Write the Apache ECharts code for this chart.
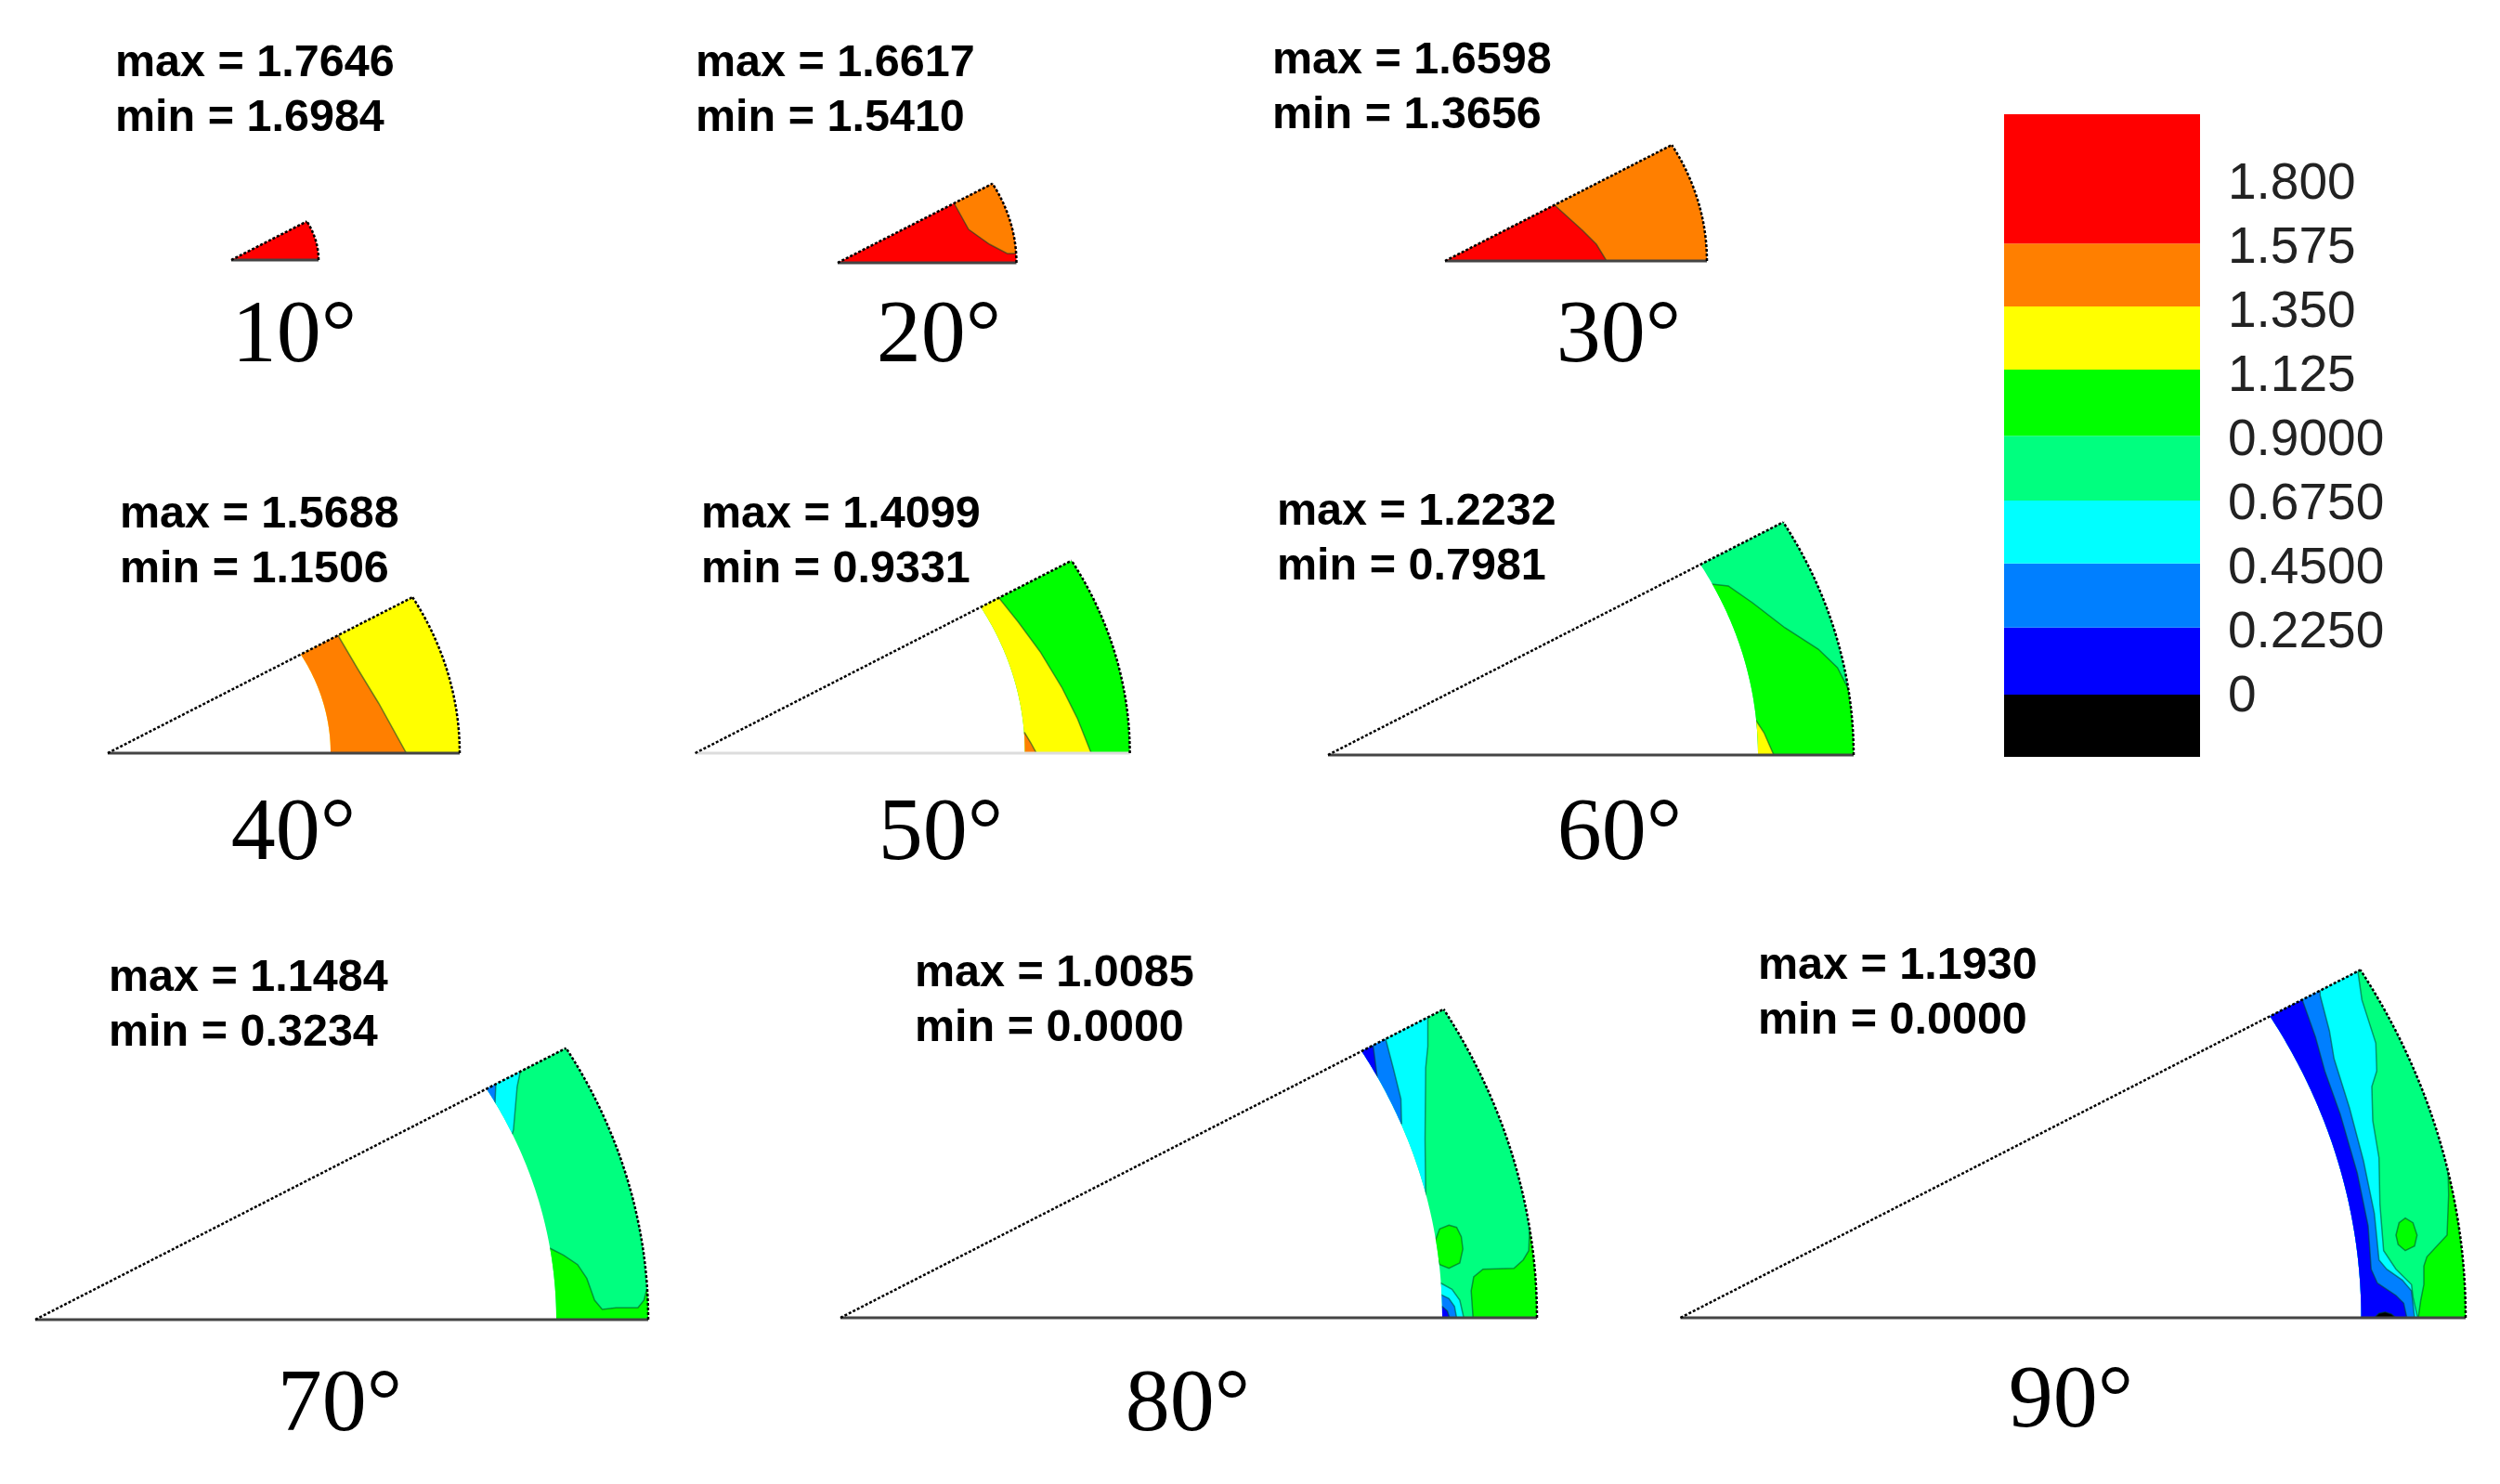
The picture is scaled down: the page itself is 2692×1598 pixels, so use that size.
<!DOCTYPE html>
<html>
<head>
<meta charset="utf-8">
<title>Contours by angle</title>
<script src="https://cdn.jsdelivr.net/npm/echarts@6/dist/echarts.min.js"></script>
<style>
	html,body{margin:0;padding:0;background:#fff;}
	#chart{width:2692px;height:1598px;}
</style>
</head>
<body>
<div id="chart"></div>
<script>
// contour level colours, low to high
var BLK='#000000',BLU='#0000ff',AZU='#007fff',CYA='#00ffff',SPR='#00ff7f',GRN='#00ff00',YEL='#ffff00',ORG='#ff7f00',RED='#ff0000';

var angles=['10°','20°','30°','40°','50°','60°','70°','80°','90°'];
var maxValues=['1.7646','1.6617','1.6598','1.5688','1.4099','1.2232','1.1484','1.0085','1.1930'];
var minValues=['1.6984','1.5410','1.3656','1.1506','0.9331','0.7981','0.3234','0.0000','0.0000'];
var outerRadius=[94,192.5,282,379,468,566,660,750,845.5];
var innerRadius=[0,0,0,240,355,463,561,648,733];
var baseColors=[RED,RED,ORG,YEL,GRN,SPR,SPR,SPR,SPR];

// colorbar
var barLevels=[0,0.225,0.45,0.675,0.9,1.125,1.35,1.575,1.8];
var barLabels=['0','0.2250','0.4500','0.6750','0.9000','1.125','1.350','1.575','1.800'];
var barEdges=[-0.209,0.01,0.245,0.47,0.691,0.919,1.151,1.373,1.594,2.048];
var barColors=[BLK,BLU,AZU,CYA,SPR,GRN,YEL,ORG,RED];

// contour patches per panel, points are [along base, above base], clipped to the ring when drawn
var patches20=[
	{c:ORG,p:[[126,63],[141,36],[163.5,20],[182.6,10],[200,10],[200,100],[126,100]]}
];
var patches30=[
	{c:RED,p:[[0,0],[174,-5],[174,0],[163,18],[148,33],[117,61],[117,80],[0,80]]}
];
var patches40=[
	{c:ORG,p:[[249,125],[269,91],[291.6,54],[321.5,0],[321.5,-5],[200,-5],[200,140],[249,140]]}
];
var patches50=[
	{c:YEL,p:[[328,166],[348,141],[371.4,109.3],[394.7,71],[411.4,37.7],[426.4,0],[426.4,-5],[300,-5],[300,190],[328,190]]},
	{c:ORG,p:[[354.7,22],[361.4,11],[367.4,0],[367.4,-5],[330,-5],[330,22]]}
];
var patches60=[
	{c:GRN,p:[[413,184],[431,182],[457,164],[492,137],[528,114],[548.6,94],[558.8,74],[563,64],[600,64],[600,-5],[400,-5],[400,184]]},
	{c:YEL,p:[[461,37],[469.5,24],[480,0],[480,-5],[400,-5],[400,37]]}
];
var patches70=[
	{c:CYA,p:[[522.2,267],[518.9,251],[514.9,204.3],[512.9,197.7],[470,197],[470,290],[522.2,290]]},
	{c:AZU,p:[[496,255],[495,232.7],[470,232],[470,290],[496,290]]},
	{c:GRN,p:[[553.9,77],[568.9,69.3],[583.9,59.3],[593.9,44.3],[602.2,21],[610.5,11],[625.5,12.7],[648.9,12.7],[655.5,21],[658,31],[680,31],[680,-5],[530,-5],[530,77]]}
];
var patches80=[
	{c:CYA,p:[[632.5,323],[632.5,292.3],[630.2,269],[629.5,192.3],[630.2,132.3],[600,132],[540,345],[632.5,345]]},
	{c:AZU,p:[[586.9,300.7],[595.2,269],[603.5,235.7],[604.2,209],[570,209],[540,345],[586.9,345]]},
	{c:BLU,p:[[573.5,294],[578,259],[550,259],[540,345],[573.5,345]]},
	{c:GRN,p:[[655.2,99.7],[663.5,97.3],[668.5,87.3],[670.2,74],[666.9,59],[655.2,53.3],[645.2,57.3],[641.2,69],[640.2,82.3],[645.2,95.7]]},
	{c:GRN,p:[[742.5,109],[741.2,72.3],[735.2,62.3],[725.2,53.3],[691.9,52.3],[681.9,44],[679.2,29],[681.2,0],[681.2,-5],[780,-5],[780,109]]},
	{c:CYA,p:[[645.2,38],[658.5,30.7],[666.9,19],[671.2,0],[671.2,-5],[620,-5],[620,38]]},
	{c:AZU,p:[[645.2,25.7],[655.2,20.7],[661.2,12.3],[663.5,0],[663.5,-5],[620,-5],[620,25.7]]},
	{c:BLU,p:[[647.9,12.3],[653.5,7.3],[655.9,0],[655.9,-5],[620,-5],[620,12.3]]}
];
var patches90=[
	{c:CYA,p:[[729.8,370.7],[733.8,342.3],[748.8,295.7],[749.8,265.7],[744.5,249],[745.5,212.3],[752.2,172.3],[753.2,122.3],[757.2,72.3],[770.5,52.3],[787.2,35.7],[788.8,22.3],[793.8,0],[793.8,-5],[690,-5],[620,395],[729.8,395]]},
	{c:AZU,p:[[688.8,347.3],[698.8,309],[703.8,279],[720.5,225.7],[735.5,169],[747.2,112.3],[752.2,62.3],[760.5,52.3],[777.2,40.7],[787.2,29],[790.5,0],[790.5,-5],[690,-5],[620,395],[688.8,395]]},
	{c:BLU,p:[[669.8,341.7],[683.8,302.3],[693.8,265.7],[710.5,219],[728.8,155.7],[740.5,99],[743.8,52.3],[750.5,37.3],[770.5,24],[778.8,15.7],[782.2,0],[782.2,-5],[690,-5],[620,395],[669.8,395]]},
	{c:BLK,p:[[747.2,0],[752.2,4.7],[758.8,6.3],[765.5,4],[770.5,0],[770.5,-5],[747.2,-5]]},
	{c:GRN,p:[[826.5,160.7],[827.2,132.3],[825.5,89],[803.8,65.7],[800.5,55.7],[800.5,35.7],[797.2,19],[794.5,0],[794.5,-5],[880,-5],[880,160.7]]},
	{c:GRN,p:[[780.5,107.3],[788.8,102.3],[793.2,89],[790.5,77.3],[780.5,72.3],[772.8,79],[770.5,89],[773.8,102.3]]}
];
var panelPatches=[[],patches20,patches30,patches40,patches50,patches60,patches70,patches80,patches90];

// layout
var ASPECT=0.886,SWEEP=30;
var apexes=[[249,280],[902,283],[1556,281],[116,811],[748.6,811],[1430,813],[38,1421],[905,1419],[1809.5,1419]];
var statPos=[[124,39],[749,39],[1370,36],[129,525],[755,525],[1375,522],[117,1024],[985,1019],[1893,1011]];
var anglePos=[[317,364],[1011,364],[1743,364],[316,900],[1013,900],[1744,900],[366,1515],[1279,1515],[2230,1511]];

function arc(r,from,to){
	var pts=[],n=Math.max(2,Math.abs(to-from)*2);
	for(var k=0;k<=n;k++){
		var t=(from+(to-from)*k/n)*Math.PI/180;
		pts.push([r*Math.cos(t),r*ASPECT*Math.sin(t)]);
	}
	return pts;
}
function ring(i){
	var inner=innerRadius[i]>0?arc(innerRadius[i],SWEEP,0):[[0,0]];
	return arc(outerRadius[i],0,SWEEP).concat(inner);
}

function panelSeries(i){
	var list=[{c:baseColors[i],p:ring(i),base:true}].concat(panelPatches[i]);
	var R=outerRadius[i];
	return {
		type:'custom',
		xAxisIndex:i,
		yAxisIndex:i,
		silent:true,
		data:list.map(function(d,j){return [j];}).concat([[list.length]]),
		renderItem:function(params,api){
			var j=params.dataIndex;
			var toPx=function(p){return api.coord(p);};
			if(j==list.length){
				// sector border: base line, slanted side and outer arc
				var tip=arc(R,SWEEP,SWEEP)[0];
				var dots={stroke:'#000',fill:null,lineWidth:2.5,lineDash:[3,2]};
				return {type:'group',children:[
					{type:'polyline',shape:{points:[[0,0],[R,0]].map(toPx)},style:{stroke:i==4?'#dddddd':'#444444',fill:null,lineWidth:3}},
					{type:'polyline',shape:{points:[[0,0],tip].map(toPx)},style:dots},
					{type:'polyline',shape:{points:arc(R,0,SWEEP).map(toPx)},style:dots}
				]};
			}
			var item=list[j];
			var el={
				type:'polygon',
				shape:{points:item.p.map(toPx)},
				style:{fill:item.c,stroke:item.base?null:'rgba(0,70,40,0.55)',lineWidth:item.base?0:1.5}
			};
			if(!item.base){
				el.clipPath={type:'polygon',shape:{points:ring(i).map(toPx)}};
			}
			return el;
		}
	};
}

var grids=[],xAxes=[],yAxes=[],series=[],texts=[];
angles.forEach(function(a,i){
	var R=outerRadius[i],h=R*ASPECT/2;
	grids.push({left:apexes[i][0],top:apexes[i][1]-h,width:R,height:h});
	xAxes.push({gridIndex:i,type:'value',min:0,max:R,show:false});
	yAxes.push({gridIndex:i,type:'value',min:0,max:h,show:false});
	series.push(panelSeries(i));
	texts.push({type:'text',x:statPos[i][0],y:statPos[i][1],style:{
		text:'max = '+maxValues[i]+'\nmin = '+minValues[i],
		font:'bold 48.5px "Liberation Sans"',lineHeight:59,fill:'#000',textAlign:'left',textVerticalAlign:'top'
	}});
	texts.push({type:'text',x:anglePos[i][0],y:anglePos[i][1],style:{
		text:a,font:'96px "Liberation Serif"',fill:'#000',textAlign:'center',textVerticalAlign:'middle'
	}});
});

// colorbar grid
grids.push({left:2158,top:126,width:211,height:694});
xAxes.push({gridIndex:9,type:'value',min:0,max:1,show:false});
yAxes.push({
	gridIndex:9,type:'value',position:'right',min:-0.225,max:2.038,
	axisLine:{show:false},axisTick:{show:false},splitLine:{show:false},
	axisLabel:{
		show:true,customValues:barLevels,margin:30,align:'left',
		fontFamily:'Liberation Sans',fontSize:55,color:'#222',
		formatter:function(v){
			var best=0;
			barLevels.forEach(function(l,k){if(Math.abs(l-v)<Math.abs(barLevels[best]-v))best=k;});
			return barLabels[best];
		}
	}
});
series.push({
	type:'custom',xAxisIndex:9,yAxisIndex:9,silent:true,
	data:barColors.map(function(c,k){return [k];}),
	renderItem:function(params,api){
		var k=params.dataIndex;
		var a=api.coord([0,barEdges[k+1]]),b=api.coord([1,barEdges[k]]);
		return {type:'rect',shape:{x:a[0],y:a[1],width:b[0]-a[0],height:b[1]-a[1]},style:{fill:barColors[k]}};
	}
});

var chart=echarts.init(document.getElementById('chart'));
chart.setOption({
	animation:false,
	backgroundColor:'#fff',
	grid:grids,
	xAxis:xAxes,
	yAxis:yAxes,
	series:series,
	graphic:{elements:texts}
});
</script>
</body>
</html>
